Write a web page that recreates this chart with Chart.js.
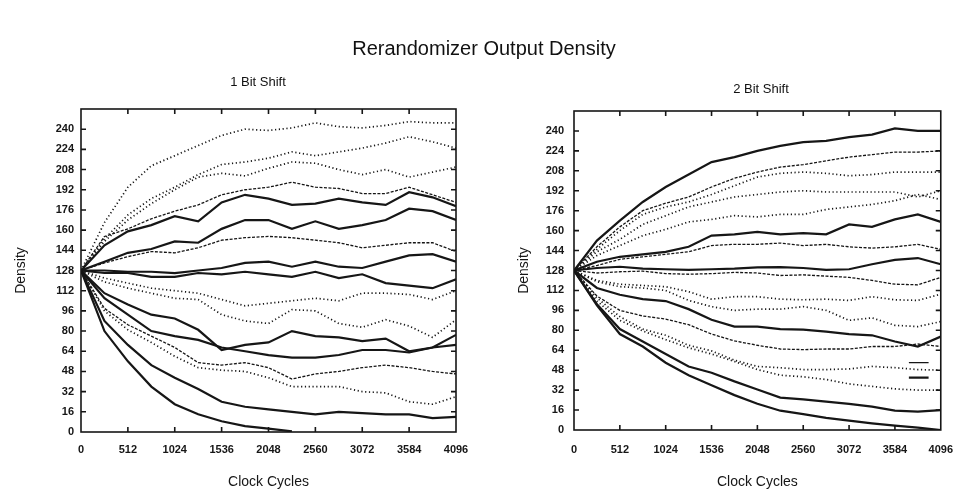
<!DOCTYPE html>
<html>
<head>
<meta charset="utf-8">
<script src="https://cdn.jsdelivr.net/npm/chart.js@4.4.1/dist/chart.umd.min.js"></script>
<style>
html, body { margin: 0; padding: 0; background: #fff; }
body { width: 966px; height: 497px; position: relative; overflow: hidden;
       font-family: "Liberation Sans", Arial, sans-serif; color: #111; }
.box { position: absolute; top: 0; width: 483px; height: 497px; }
#left { left: 0; }
#right { left: 483px; }
.txt { position: absolute; white-space: nowrap; transform: translate(-50%, -50%); }
</style>
</head>
<body>
<div class="box" id="left"><canvas id="shift1"></canvas></div>
<div class="box" id="right"><canvas id="shift2"></canvas></div>
<div class="txt" style="left:484px; top:48px; font-size:20px;">Rerandomizer Output Density</div>
<div class="txt" style="left:258px; top:81px; font-size:13px;">1 Bit Shift</div>
<div class="txt" style="left:761px; top:88px; font-size:13px;">2 Bit Shift</div>
<script>
// clock cycle samples (every 256 cycles)
var cycles = [0, 256, 512, 768, 1024, 1280, 1536, 1792, 2048, 2304, 2560, 2816, 3072, 3328, 3584, 3840, 4096];
var xTicks = [0, 512, 1024, 1536, 2048, 2560, 3072, 3584, 4096];
var yTicks = [0, 16, 32, 48, 64, 80, 96, 112, 128, 144, 160, 176, 192, 208, 224, 240];

// 1 bit shift, densities
var shift1 = [
  [128, 166, 194, 211, 219, 227, 235, 240, 239, 241, 245, 242, 241, 243, 246, 245, 245],
  [128, 153, 172, 185, 194, 204, 212, 214, 217, 222, 219, 222, 225, 229, 234, 230, 225],
  [128, 151, 168, 181, 192, 202, 205, 203, 209, 214, 213, 208, 204, 208, 202, 206, 210],
  [128, 155, 161, 169, 175, 180, 188, 192, 194, 198, 194, 193, 189, 189, 194, 188, 182],
  [128, 148, 159, 164, 171, 167, 182, 188, 185, 180, 181, 185, 182, 180, 190, 186, 179],
  [128, 135, 142, 145, 151, 150, 161, 168, 168, 161, 167, 161, 164, 168, 177, 175, 168],
  [128, 134, 139, 143, 142, 146, 152, 154, 155, 154, 152, 150, 146, 148, 150, 150, 143],
  [128, 128, 127, 127, 126, 128, 130, 134, 135, 131, 135, 131, 130, 135, 140, 141, 135],
  [128, 126, 126, 123, 123, 126, 125, 127, 125, 123, 127, 122, 125, 118, 116, 114, 121],
  [128, 122, 118, 114, 112, 110, 105, 100, 102, 104, 106, 104, 110, 110, 109, 105, 112],
  [128, 119, 114, 110, 106, 105, 93, 88, 86, 97, 96, 86, 83, 89, 84, 75, 89],
  [128, 110, 101, 93, 90, 81, 65, 69, 71, 80, 76, 75, 72, 74, 64, 67, 77],
  [128, 106, 93, 80, 76, 73, 67, 64, 61, 59, 59, 61, 65, 65, 63, 67, 69],
  [128, 98, 85, 76, 67, 55, 53, 55, 51, 42, 46, 48, 51, 53, 51, 48, 46],
  [128, 96, 81, 71, 60, 51, 49, 48, 43, 36, 36, 36, 32, 31, 24, 22, 28],
  [128, 88, 69, 53, 43, 34, 24, 20, 18, 16, 14, 16, 15, 14, 14, 11, 12],
  [128, 80, 56, 36, 22, 14, 8.5, 4.6, 2.7, 0.5, null, null, null, null, null, null, null]
];
var shift1Looks = ['dot', 'dot', 'dot', 'dash', 'thick', 'thick', 'dash', 'thick', 'thick',
                   'dot', 'dot', 'thick', 'thick', 'dash', 'dot', 'thick', 'thick'];

// 2 bit shift
var shift2 = [
  [128, 152, 168, 183, 195, 205, 215, 219, 224, 228, 231, 232, 235, 237, 242, 240, 240],
  [128, 147, 163, 176, 182, 187, 195, 202, 207, 211, 213, 216, 219, 221, 223, 223, 224],
  [128, 145, 160, 173, 179, 183, 189, 196, 203, 206, 207, 206, 204, 205, 207, 207, 207],
  [128, 143, 153, 165, 172, 179, 183, 187, 189, 191, 192, 191, 191, 191, 191, 187, 192],
  [128, 140, 148, 156, 161, 167, 169, 172, 171, 173, 173, 177, 179, 181, 184, 189, 185],
  [128, 135, 139, 141, 143, 147, 156, 157, 159, 157, 158, 157, 165, 163, 169, 173, 167],
  [128, 132, 137, 139, 141, 143, 148, 149, 149, 150, 148, 149, 147, 146, 147, 149, 145],
  [128, 130, 131, 129.5, 129, 128.5, 129, 129.5, 130.5, 130.7, 130, 128.5, 129, 133, 136.5, 138, 133],
  [128, 126, 127, 127.5, 125.5, 125, 125.5, 126.5, 126, 124, 124.5, 123.5, 122.5, 120, 117, 116.5, 122.5],
  [128, 120, 117, 116, 115, 111, 105, 107, 107, 105, 104.5, 105, 104, 107, 104.5, 104, 109],
  [128, 119, 115, 114, 112, 104, 99, 96, 97, 97, 99, 96, 88, 90, 84, 83, 87],
  [128, 114, 108.5, 105, 103.5, 97, 88.5, 83, 83, 81, 80.5, 79, 77, 76, 71, 67, 75],
  [128, 107.5, 96, 91.5, 89, 84.5, 77, 71.5, 68, 65, 64.5, 65, 65, 67, 67, 69, 67],
  [128, 106, 91, 81, 76, 68, 63.5, 56, 51, 50, 48.5, 48.5, 49, 51, 50, 48.5, 48],
  [128, 103.5, 88, 79.5, 72.5, 66, 61, 55, 48.5, 44, 42.7, 40.5, 37, 35, 33, 32, 32],
  [128, 101, 81, 71, 61, 51, 46, 39, 32.5, 26, 24.5, 22.7, 21, 18.7, 15.5, 14.7, 16],
  [128, 100, 77, 67, 54, 44, 36, 28, 21, 15.5, 12.8, 9.8, 7.5, 5.3, 3.5, 1.9, 0]
];
var shift2Looks = ['thick', 'dash', 'dot', 'dot', 'dot', 'thick', 'dash', 'thick', 'dash',
                   'dot', 'dot', 'thick', 'dash', 'dot', 'dot', 'thick', 'thick'];

// two short key strokes in the lower right of the 2 bit plot
var keyX = [3740, 3960];
var keyY = [54, 42];
var keyLooks = ['thin', 'thick'];

var looks = {
  thick: { borderWidth: 2.2, borderDash: [] },
  thin:  { borderWidth: 1.2, borderDash: [] },
  dash:  { borderWidth: 1.3, borderDash: [3, 1.5] },
  dot:   { borderWidth: 1.7, borderDash: [1.2, 2.6] }
};

var ink = '#161616';
var tickFont = { family: 'Liberation Sans', size: 11, weight: 'bold' };
var titleFont = { family: 'Liberation Sans', size: 14 };

// frame round the plot with inward tick marks
var framePlugin = {
  id: 'frame',
  afterDatasetsDraw: function(chart) {
    var ctx = chart.ctx, a = chart.chartArea;
    var xs = chart.scales.x, ys = chart.scales.y;
    ctx.save();
    ctx.strokeStyle = ink;
    ctx.lineWidth = 1.6;
    ctx.strokeRect(a.left, a.top, a.right - a.left, a.bottom - a.top);
    ctx.beginPath();
    xTicks.slice(1, -1).forEach(function(v) {
      var px = xs.getPixelForValue(v);
      ctx.moveTo(px, a.top); ctx.lineTo(px, a.top + 5);
      ctx.moveTo(px, a.bottom); ctx.lineTo(px, a.bottom - 5);
    });
    yTicks.slice(1).forEach(function(v) {
      var py = ys.getPixelForValue(v);
      ctx.moveTo(a.left, py); ctx.lineTo(a.left + 5, py);
      ctx.moveTo(a.right, py); ctx.lineTo(a.right - 5, py);
    });
    ctx.stroke();
    ctx.restore();
  }
};

function buildSets(series, kinds) {
  return series.map(function(vals, i) {
    var look = looks[kinds[i]];
    return {
      data: cycles.map(function(c, j) { return { x: c, y: vals[j] }; }),
      borderColor: ink,
      borderWidth: look.borderWidth,
      borderDash: look.borderDash,
      pointRadius: 0,
      tension: 0,
      spanGaps: false
    };
  });
}

function plain(v) { return String(v); }

function makeChart(id, sets, lay) {
  return new Chart(document.getElementById(id), {
    type: 'line',
    data: { datasets: sets },
    plugins: [framePlugin],
    options: {
      responsive: true,
      maintainAspectRatio: false,
      animation: false,
      layout: { padding: lay.padding },
      plugins: { legend: { display: false }, tooltip: { enabled: false } },
      scales: {
        x: {
          type: 'linear', min: 0, max: 4096,
          grid: { display: false, drawTicks: false },
          border: { display: false },
          afterBuildTicks: function(s) { s.ticks = xTicks.map(function(v) { return { value: v }; }); },
          afterFit: function(s) { s.height = lay.xHeight; },
          ticks: { font: tickFont, color: ink, padding: lay.xPad, maxRotation: 0, autoSkip: false,
                   callback: plain },
          title: { display: true, text: 'Clock Cycles', font: titleFont, color: ink,
                   padding: { top: 0, bottom: 6 } }
        },
        y: {
          type: 'linear', min: 0, max: 256,
          grid: { display: false, drawTicks: false },
          border: { display: false },
          afterBuildTicks: function(s) { s.ticks = yTicks.map(function(v) { return { value: v }; }); },
          afterFit: function(s) { s.width = lay.yWidth; },
          ticks: { font: tickFont, color: ink, padding: lay.yPad, autoSkip: false, callback: plain },
          title: { display: true, text: 'Density', font: titleFont, color: ink,
                   padding: { top: 3, bottom: 0 } }
        }
      }
    }
  });
}

makeChart('shift1', buildSets(shift1, shift1Looks), {
  padding: { left: 10, right: 27, top: 109, bottom: 0 },
  yWidth: 71, xHeight: 65, xPad: 11, yPad: 7
});

var sets2 = buildSets(shift2, shift2Looks);
keyY.forEach(function(yv, i) {
  sets2.push({
    data: keyX.map(function(xv) { return { x: xv, y: yv }; }),
    borderColor: ink,
    borderWidth: looks[keyLooks[i]].borderWidth,
    pointRadius: 0
  });
});
makeChart('shift2', sets2, {
  padding: { left: 30, right: 16, top: 111, bottom: 0 },
  yWidth: 61, xHeight: 67, xPad: 13, yPad: 10
});
</script>
</body>
</html>
